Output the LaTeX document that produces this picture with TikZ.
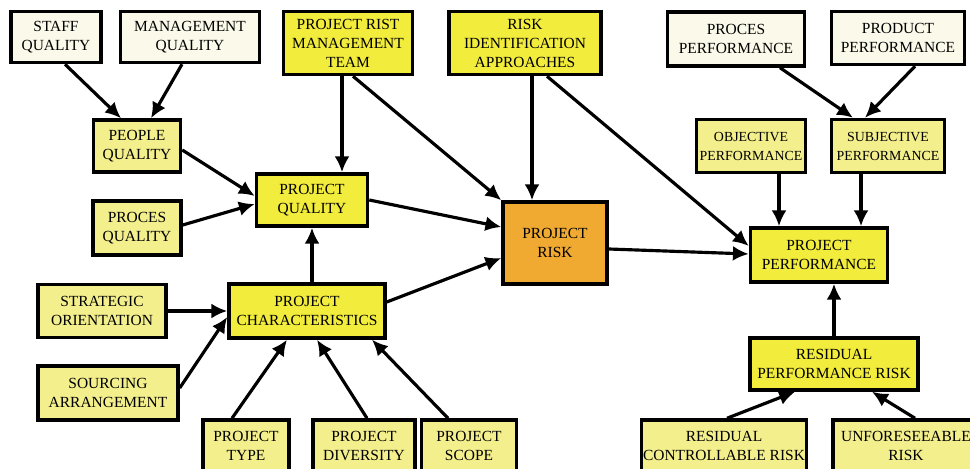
\documentclass[tikz,border=0pt]{standalone}
\usepackage{fontspec}
\setmainfont{Liberation Serif}
\usetikzlibrary{arrows.meta,calc}
\definecolor{cream}{RGB}{251,250,234}
\definecolor{lightyel}{RGB}{243,239,140}
\definecolor{brightyel}{RGB}{242,236,60}
\definecolor{riskorange}{RGB}{240,170,50}

\begin{document}
\begin{tikzpicture}[x=0.02cm,y=-0.02cm,
		box/.style={draw, line width=2pt, align=center, inner sep=1pt, font=\fontsize{8.8}{10.8}\selectfont},
		creambox/.style={box, fill=cream},
		lightbox/.style={box, fill=lightyel},
		brightbox/.style={box, fill=brightyel},
		riskbox/.style={box, fill=riskorange},
		smalltext/.style={font=\fontsize{7.9}{10.8}\selectfont},
		arr/.style={-{Latex[length=9pt,width=8.5pt]}, line width=1.8pt}]
		\useasboundingbox[fill=white] (0,0) rectangle (970,469);
		
		\node[creambox, minimum width=1.80cm, minimum height=1.02cm] (staff) at (56,37) {STAFF\\QUALITY};
		\node[creambox, minimum width=2.78cm, minimum height=1.02cm] (mgmt) at (190,37) {MANAGEMENT\\QUALITY};
		\node[brightbox, minimum width=2.58cm, minimum height=1.26cm] (team) at (348,43) {PROJECT RIST\\MANAGEMENT\\TEAM};
		\node[brightbox, minimum width=3.04cm, minimum height=1.26cm] (riskid) at (525,43) {RISK\\IDENTIFICATION\\APPROACHES};
		\node[creambox, minimum width=2.74cm, minimum height=1.08cm] (procperf) at (736,39) {PROCES\\PERFORMANCE};
		\node[creambox, minimum width=2.66cm, minimum height=1.06cm] (prodperf) at (898,38) {PRODUCT\\PERFORMANCE};
		
		\node[lightbox, minimum width=1.74cm, minimum height=1.04cm] (people) at (137,146) {PEOPLE\\QUALITY};
		\node[brightbox, minimum width=2.22cm, minimum height=1.04cm] (projqual) at (312,200) {PROJECT\\QUALITY};
		\node[lightbox, minimum width=1.76cm, minimum height=1.08cm] (procqual) at (137,228) {PROCES\\QUALITY};
		\node[lightbox, minimum width=2.56cm, minimum height=1.06cm] (strategic) at (102,311) {STRATEGIC\\ORIENTATION};
		\node[brightbox, minimum width=3.12cm, minimum height=1.08cm] (projchar) at (307,311) {PROJECT\\CHARACTERISTICS};
		\node[lightbox, minimum width=2.80cm, minimum height=1.08cm] (sourcing) at (108,393) {SOURCING\\ARRANGEMENT};
		\node[lightbox, minimum width=1.72cm, minimum height=1.04cm] (type) at (246,446) {PROJECT\\TYPE};
		\node[lightbox, minimum width=2.04cm, minimum height=1.04cm] (diversity) at (364,446) {PROJECT\\DIVERSITY};
		\node[lightbox, minimum width=1.90cm, minimum height=1.04cm] (scope) at (469,446) {PROJECT\\SCOPE};
		
		\node[riskbox, minimum width=2.08cm, minimum height=1.64cm] (risk) at (555,243) {PROJECT\\RISK};
		
		\node[lightbox, smalltext, minimum width=2.18cm, minimum height=1.06cm] (objective) at (751,146) {OBJECTIVE\\PERFORMANCE};
		\node[lightbox, smalltext, minimum width=2.26cm, minimum height=1.06cm] (subjective) at (888,146) {SUBJECTIVE\\PERFORMANCE};
		\node[brightbox, minimum width=2.74cm, minimum height=1.08cm] (projperf) at (819,255) {PROJECT\\PERFORMANCE};
		\node[brightbox, minimum width=3.36cm, minimum height=1.04cm] (resperf) at (834,364) {RESIDUAL\\PERFORMANCE RISK};
		\node[lightbox, minimum width=3.26cm, minimum height=1.04cm] (rescontrol) at (724,446) {RESIDUAL\\CONTROLLABLE RISK};
		\node[lightbox, minimum width=2.92cm, minimum height=1.04cm] (unforesee) at (906,446) {UNFORESEEABLE\\RISK};
		
		\draw[arr] ($(staff.south)+(9,0)$) -- ($(people.north)+(-16,0)$);
		\draw[arr] ($(mgmt.south)+(-8,0)$) -- ($(people.north)+(14,0)$);
		\draw[arr] ($(people.east)+(0,4)$) -- ($(projqual.west)+(0,-4)$);
		\draw[arr] ($(procqual.east)+(0,-3)$) -- ($(projqual.west)+(0,4)$);
		\draw[arr] ($(team.south)+(-6,0)$) -- ($(projqual.north)+(30,0)$);
		\draw[arr] ($(team.south)+(5,0)$) -- (risk.north west);
		\draw[arr] ($(riskid.south)+(7,0)$) -- ($(risk.north)+(-23,0)$);
		\draw[arr] ($(riskid.south)+(22,0)$) -- ($(projperf.west)+(0,-9)$);
		\draw[arr] (projqual.east) -- ($(risk.west)+(0,-16)$);
		\draw[arr] ($(projchar.north)+(5,0)$) -- (projqual.south);
		\draw[arr] ($(projchar.east)+(0,-9)$) -- ($(risk.west)+(0,15)$);
		\draw[arr] (strategic) -- (projchar);
		\draw[arr] ($(sourcing.east)+(0,-5)$) -- ($(projchar.west)+(0,6)$);
		\draw[arr] ($(type.north)+(-14,0)$) -- ($(projchar.south)+(-20,0)$);
		\draw[arr] ($(diversity.north)+(3,0)$) -- ($(projchar.south)+(10,0)$);
		\draw[arr] ($(scope.north)+(-21,0)$) -- ($(projchar.south)+(65,0)$);
		\draw[arr] ($(risk.east)+(0,6)$) -- ($(projperf.west)+(0,-1)$);
		\draw[arr] ($(objective.south)+(28,0)$) -- ($(projperf.north)+(-40,0)$);
		\draw[arr] ($(subjective.south)+(-27,0)$) -- ($(projperf.north)+(42,0)$);
		\draw[arr] ($(procperf.south)+(44,0)$) -- ($(subjective.north)+(-35,0)$);
		\draw[arr] ($(prodperf.south)+(17,0)$) -- ($(subjective.north)+(-23,0)$);
		\draw[arr] (resperf.north) -- ($(projperf.south)+(15,0)$);
		\draw[arr] ($(rescontrol.north)+(3,0)$) -- ($(resperf.south)+(-39,0)$);
		\draw[arr] ($(unforesee.north)+(9,0)$) -- ($(resperf.south)+(38,0)$);
\end{tikzpicture}
\end{document}
